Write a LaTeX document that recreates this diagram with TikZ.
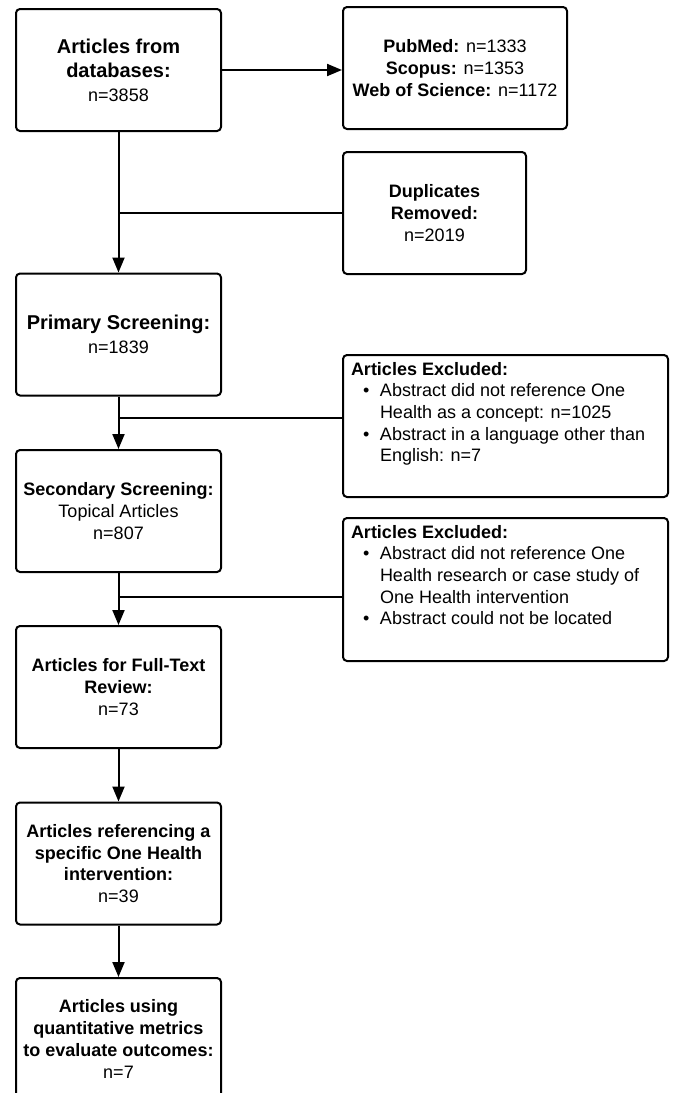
\documentclass[tikz,border=0pt]{standalone}
\usepackage{fontspec}
\setmainfont{Liberation Sans}
\usetikzlibrary{arrows.meta}

\newcommand{\exclitem}[1]{\par\hangindent=29pt\hangafter=1\noindent\hspace*{12pt}\makebox[17pt][l]{\textbullet}#1}
\newcommand{\bigtitle}[1]{{\fontsize{20}{24}\selectfont\bfseries #1}}

\begin{document}
\begin{tikzpicture}[x=1pt, y=-1pt, >={Triangle[length=15pt, width=12pt]}, line width=2pt,
        box/.style={draw, rounded corners=4pt, align=center, minimum width=205pt, minimum height=122pt, inner sep=2pt, font=\fontsize{18}{21.7}\selectfont},
        excl/.style={draw, rounded corners=4pt, inner xsep=8pt, inner ysep=7pt, font=\fontsize{18}{21.7}\selectfont}]
        \useasboundingbox (0, 0) rectangle (673, 1093);
        \clip (0, 0) rectangle (673, 1093);
        \node[box, font=\fontsize{18}{24}\selectfont] (db) at (118.5, 70) {\bigtitle{Articles from}\\\bigtitle{databases:}\\n=3858};
        \node[box, minimum width=224pt] (sources) at (455, 68) {\textbf{PubMed:} n=1333\\\textbf{Scopus:} n=1353\\\textbf{Web of Science:} n=1172};
        \node[box, minimum width=183pt] (dupl) at (434.5, 213) {\textbf{Duplicates}\\\textbf{Removed:}\\n=2019};
        \node[box, font=\fontsize{18}{24}\selectfont] (primary) at (118.5, 334.5) {\bigtitle{Primary Screening:}\\n=1839};
        \node[excl] (excl1) at (505.5, 426) {\parbox[t][128pt][t]{309pt}{\raggedright\textbf{Articles Excluded:}
            \exclitem{Abstract did not reference One\newline Health as a concept: n=1025}
            \exclitem{Abstract in a language other than\newline English: n=7}}};
        \node[box] (secondary) at (118.5, 511) {\textbf{Secondary Screening:}\\Topical Articles\\n=807};
        \node[excl] (excl2) at (505.5, 589.5) {\parbox[t][129pt][t]{309pt}{\raggedright\textbf{Articles Excluded:}
            \exclitem{Abstract did not reference One\newline Health research or case study of\newline One Health intervention}
            \exclitem{Abstract could not be located}}};
        \node[box] (fulltext) at (118.5, 687) {\textbf{Articles for Full-Text}\\\textbf{Review:}\\n=73};
        \node[box] (specific) at (118.5, 863.5) {\textbf{Articles referencing a}\\\textbf{specific One Health}\\\textbf{intervention:}\\n=39};
        \node[box] (quant) at (118.5, 1039) {\textbf{Articles using}\\\textbf{quantitative metrics}\\\textbf{to evaluate outcomes:}\\n=7};
        \coordinate (j1) at (118.5, 418);
        \coordinate (j2) at (118.5, 597);
        \draw[->] (db) -- (db -| sources.west);
        \draw[->] (db) -- (primary);
        \path[draw] (dupl.west) -- (dupl.west -| db.south);
        \draw[->] (primary) -- (secondary);
        \path[draw] (j1) -- (j1 -| excl1.west);
        \draw[->] (secondary) -- (fulltext);
        \path[draw] (j2) -- (j2 -| excl2.west);
        \draw[->] (fulltext) -- (specific);
        \draw[->] (specific) -- (quant);
    \end{tikzpicture}
\end{document}
